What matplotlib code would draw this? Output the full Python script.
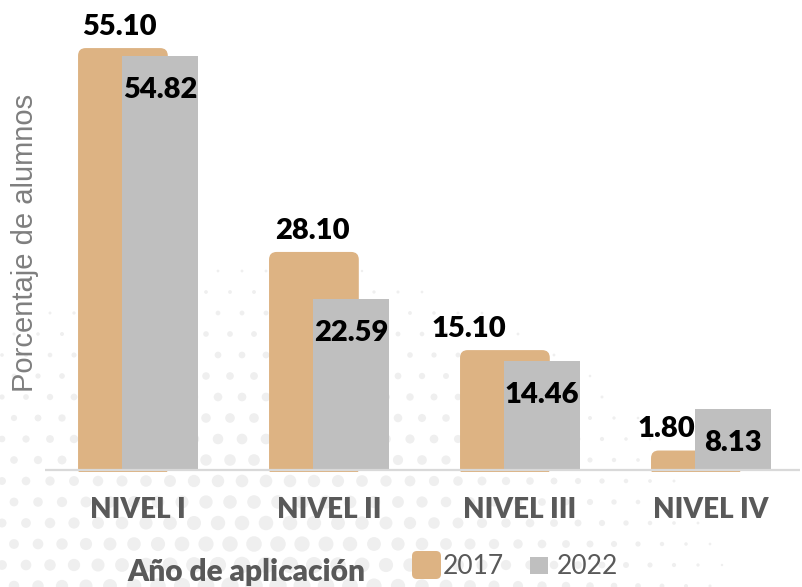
import numpy as np
import matplotlib
matplotlib.use("Agg")
import matplotlib.pyplot as plt
from matplotlib.patches import FancyBboxPatch, Rectangle
from matplotlib.transforms import IdentityTransform

categorias = ["NIVEL I", "NIVEL II", "NIVEL III", "NIVEL IV"]
valores_2017 = [55.10, 28.10, 15.10, 1.80]
valores_2022 = [54.82, 22.59, 14.46, 8.13]
anios = ["2017", "2022"]

TAN = "#DDB383"
GRIS = "#BFBFBF"
TEXTO = "#595959"
PESO = "heavy"

W, H = 803, 587
fig = plt.figure(figsize=(W / 100, H / 100), dpi=100)

# fondo de puntos (decorativo)
bg = fig.add_axes([0, 0, 1, 1], zorder=-1)
bg.set_xlim(0, W)
bg.set_ylim(H, 0)
bg.axis("off")
px, py, ps = [], [], []
for j, yy in enumerate(np.arange(250, H + 20, 21)):
    for xx in np.arange(-10, 760, 24):
        cx = xx + (12 if j % 2 else 0)
        d = np.hypot((cx - 260) * 0.8, yy - 640)
        r = 10 * (1 - d / 430)
        if r > 1.2:
            px.append(cx)
            py.append(yy)
            ps.append((2 * r * 0.72) ** 2)
bg.scatter(px, py, s=ps, color="#EFEFEF", lw=0)

x0, bottom = 45, 472.3
ax = fig.add_axes([x0 / W, (H - bottom) / H, 755 / W, 455.3 / H])
ax.set_facecolor("none")
ax.set_xlim(-0.487, 3.466)
ax.set_ylim(-0.3, 60)

# aspecto para esquinas redondeadas
sx = ax.transData.transform((1, 0))[0] - ax.transData.transform((0, 0))[0]
sy = ax.transData.transform((0, 1))[1] - ax.transData.transform((0, 0))[1]
aspect = sx / sy

x = np.arange(len(categorias))
w17, w22 = 0.408, 0.398
off17, off22 = -0.079, 0.115

for xi, v in zip(x, valores_2017):
    p = FancyBboxPatch((xi + off17 - w17 / 2, 0), w17, v,
                       boxstyle="round,pad=0.031,rounding_size=0.04",
                       mutation_aspect=aspect, fc=TAN, ec="none", zorder=2)
    ax.add_patch(p)

ax.bar(x + off22, valores_2022, width=w22, color=GRIS, zorder=3)
ax.axhline(0, color="#D9D9D9", lw=1.6, zorder=4)

desp = [-3, -1, -36, -30]
for xi, v, d in zip(x, valores_2017, desp):
    ax.annotate(f"{v:.2f}", (xi + off17, v), xytext=(d * 0.72, 19 * 0.72),
                textcoords="offset points", ha="center", va="baseline",
                fontsize=21, fontweight=PESO, family="Lato", color="black",
                annotation_clip=False, zorder=5)
for xi, v in zip(x, valores_2022):
    ax.annotate(f"{v:.2f}", (xi + off22, v), xytext=(0, -42 * 0.72),
                textcoords="offset points", ha="center", va="baseline",
                fontsize=21, fontweight=PESO, family="Lato", color="black",
                zorder=5)

ax.set_xticks(x)
ax.set_xticklabels(categorias, fontsize=20, fontweight=PESO, family="Lato", color=TEXTO)
ax.tick_params(axis="x", length=0, pad=18)
ax.set_yticks([])
for s in ax.spines.values():
    s.set_visible(False)

fig.text(25 / W, 1 - 243 / H, "Porcentaje de alumnos", rotation=90, ha="center",
         va="center", fontsize=21, color="#7F7F7F", family="Liberation Sans")
fig.text(127 / W, 1 - 581 / H, "Año de aplicación", ha="left", va="baseline",
         fontsize=21.5, fontweight=PESO, family="Lato", color=TEXTO)

# leyenda
idt = IdentityTransform()
fig.patches.append(FancyBboxPatch((412, H - 579), 29, 28, boxstyle="round,pad=0,rounding_size=5",
                                  fc=TAN, ec="none", transform=idt, figure=fig))
fig.patches.append(Rectangle((530, H - 574), 18, 17, fc=GRIS, ec="none", transform=idt, figure=fig))
fig.text(443 / W, 1 - 574 / H, anios[0], ha="left", va="baseline", fontsize=19,
         family="Lato", color=TEXTO)
fig.text(557 / W, 1 - 574 / H, anios[1], ha="left", va="baseline", fontsize=19,
         family="Lato", color=TEXTO)

fig.savefig("out.png", dpi=100)
